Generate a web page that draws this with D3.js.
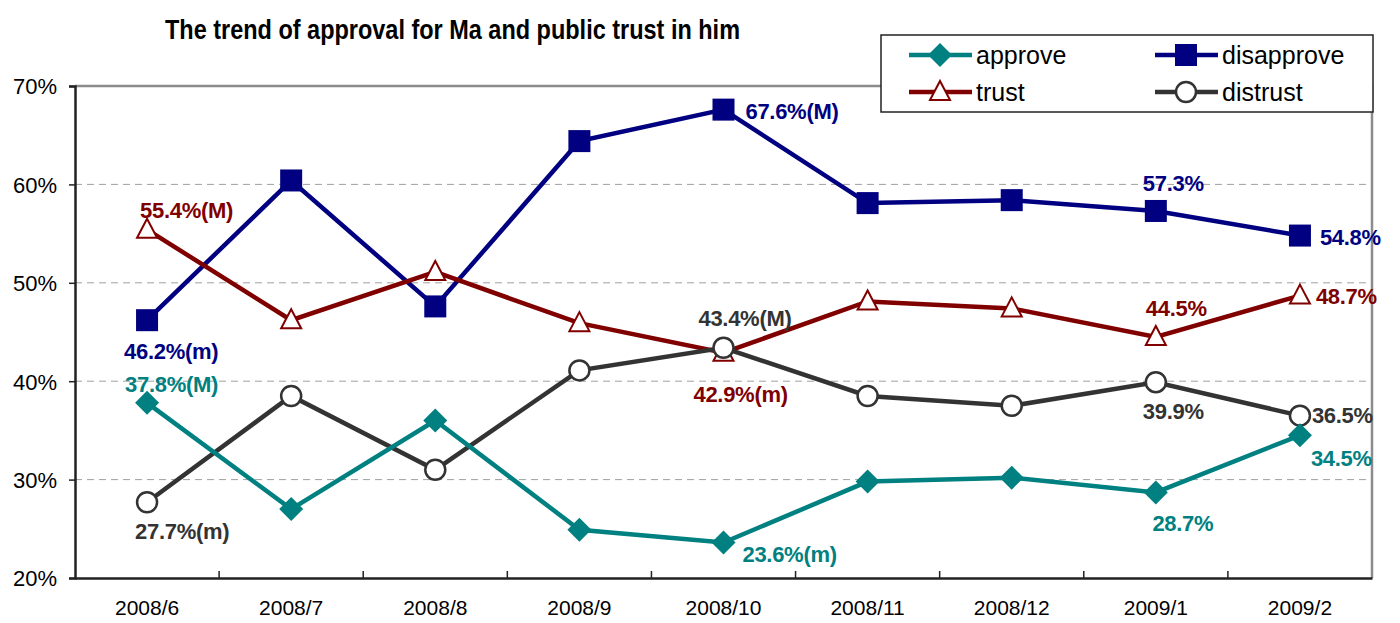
<!DOCTYPE html>
<html>
<head>
<meta charset="utf-8">
<script src="https://cdn.jsdelivr.net/npm/d3@7"></script>
<style>
  body { margin: 0; background: #fff; }
  text { font-family: "Liberation Sans", Arial, sans-serif; }
</style>
</head>
<body>
<div id="chart"></div>
<script>
var months = ["2008/6","2008/7","2008/8","2008/9","2008/10","2008/11","2008/12","2009/1","2009/2"];
var approve    = [37.8, 27.0, 36.0, 24.9, 23.6, 29.8, 30.2, 28.7, 34.5];
var disapprove = [46.2, 60.4, 47.6, 64.4, 67.6, 58.1, 58.4, 57.3, 54.8];
var trust      = [55.4, 46.2, 51.1, 45.9, 42.9, 48.1, 47.4, 44.5, 48.7];
var distrust   = [27.7, 38.5, 31.0, 41.1, 43.4, 38.5, 37.5, 39.9, 36.5];
var yTicks = [20, 30, 40, 50, 60, 70];

var series = [
  {name: "approve",    values: approve,    color: "#008080", shape: "diamond"},
  {name: "disapprove", values: disapprove, color: "#000080", shape: "square"},
  {name: "trust",      values: trust,      color: "#800000", shape: "triangle"},
  {name: "distrust",   values: distrust,   color: "#333333", shape: "circle"}
];

// which points get a value label: [series, point, suffix, dx, dy, anchor]
var notes = [
  [0, 0, "(M)", -22, -11, "start"],
  [0, 4, "(m)", 19, 19, "start"],
  [0, 7, "", 27, 39, "middle"],
  [0, 8, "", 11, 31, "start"],
  [1, 0, "(m)", -23, 39, "start"],
  [1, 4, "(M)", 22, 9, "start"],
  [1, 7, "", -13, -20, "start"],
  [1, 8, "", 20, 9, "start"],
  [2, 0, "(M)", -7, -12, "start"],
  [2, 4, "(m)", -30, 49, "start"],
  [2, 7, "", -10, -21, "start"],
  [2, 8, "", 16, 8, "start"],
  [3, 0, "(m)", -12, 37, "start"],
  [3, 4, "(M)", -25, -22, "start"],
  [3, 7, "", -13, 37, "start"],
  [3, 8, "", 12, 7, "start"]
];

var W = 1400, H = 623;
var m = {left: 75, right: 28, top: 86, bottom: 45};

var svg = d3.select("#chart").append("svg")
  .attr("width", W).attr("height", H);

var x = d3.scaleBand().domain(months).range([m.left, W - m.right]);
var y = d3.scaleLinear().domain([20, 70]).range([H - m.bottom, m.top]);
function cx(i){ return x(months[i]) + x.bandwidth() / 2; }

// title (condensed look)
svg.append("text")
  .attr("x", 165).attr("y", 39)
  .attr("textLength", 575)
  .attr("lengthAdjust", "spacingAndGlyphs")
  .style("font-weight", "bold")
  .style("font-size", "27px")
  .text("The trend of approval for Ma and public trust in him");

// gridlines
svg.append("g").selectAll("line")
  .data(yTicks.filter(function(d){ return d > 20 && d < 70; }))
  .enter().append("line")
  .attr("x1", m.left).attr("x2", W - m.right)
  .attr("y1", function(d){ return y(d); })
  .attr("y2", function(d){ return y(d); })
  .attr("stroke", "#a0a0a0")
  .attr("stroke-width", 1)
  .attr("stroke-dasharray", "7,5");

// top and right border
svg.append("path")
  .attr("d", "M" + m.left + "," + y(70) + "H" + (W - m.right) + "V" + y(20))
  .attr("fill", "none")
  .attr("stroke", "#8c8c8c")
  .attr("stroke-width", 2.5);

// y axis
var yAxis = svg.append("g")
  .attr("transform", "translate(" + m.left + ",0)")
  .call(d3.axisLeft(y).tickValues(yTicks).tickSize(6).tickPadding(12)
    .tickFormat(function(d){ return d + "%"; }));
yAxis.select(".domain").attr("stroke", "#222").attr("stroke-width", 2.5);
yAxis.selectAll(".tick line").attr("stroke", "#222").attr("stroke-width", 1.5);
yAxis.selectAll("text").style("font-size", "22px").attr("fill", "#000").attr("dy", "0.36em");

// x axis
var xAxis = svg.append("g")
  .attr("transform", "translate(0," + y(20) + ")")
  .call(d3.axisBottom(x).tickSize(0).tickPadding(22));
xAxis.select(".domain").attr("stroke", "#222").attr("stroke-width", 2.5);
xAxis.selectAll("text").style("font-size", "21px").attr("fill", "#000");
// category boundary ticks (inside, pointing up)
svg.append("g").selectAll("line")
  .data(months.slice(1))
  .enter().append("line")
  .attr("x1", function(d){ return x(d); })
  .attr("x2", function(d){ return x(d); })
  .attr("y1", y(20)).attr("y2", y(20) - 7)
  .attr("stroke", "#222").attr("stroke-width", 1.5);

var line = d3.line()
  .x(function(d, i){ return cx(i); })
  .y(function(d){ return y(d); });

function marker(g, shape, color, px, py) {
  if (shape === "diamond") {
    g.append("path")
      .attr("d", "M" + px + "," + (py - 12) + "L" + (px + 12) + "," + py + "L" + px + "," + (py + 12) + "L" + (px - 12) + "," + py + "Z")
      .attr("fill", color);
  } else if (shape === "square") {
    g.append("rect")
      .attr("x", px - 11).attr("y", py - 11)
      .attr("width", 22).attr("height", 22)
      .attr("fill", color);
  } else if (shape === "triangle") {
    g.append("path")
      .attr("d", "M" + px + "," + (py - 11) + "L" + (px + 10) + "," + (py + 8) + "L" + (px - 10) + "," + (py + 8) + "Z")
      .attr("fill", "#fff").attr("stroke", color).attr("stroke-width", 2);
  } else {
    g.append("circle")
      .attr("cx", px).attr("cy", py).attr("r", 10)
      .attr("fill", "#fff").attr("stroke", color).attr("stroke-width", 2.5);
  }
}

var drawOrder = [1, 2, 3, 0];
drawOrder.forEach(function(k){
  var s = series[k];
  var g = svg.append("g");
  g.append("path")
    .datum(s.values)
    .attr("d", line)
    .attr("fill", "none")
    .attr("stroke", s.color)
    .attr("stroke-width", 4.5);
  s.values.forEach(function(v, i){ marker(g, s.shape, s.color, cx(i), y(v)); });
});

// value labels
svg.append("g").selectAll("text")
  .data(notes)
  .enter().append("text")
  .attr("x", function(d){ return cx(d[1]) + d[3]; })
  .attr("y", function(d){ return y(series[d[0]].values[d[1]]) + d[4]; })
  .attr("text-anchor", function(d){ return d[5]; })
  .attr("fill", function(d){ return series[d[0]].color; })
  .style("font-size", "22px")
  .style("font-weight", "bold")
  .style("letter-spacing", "-0.3px")
  .text(function(d){ return series[d[0]].values[d[1]].toFixed(1) + "%" + d[2]; });

// legend
var lg = svg.append("g");
lg.append("rect")
  .attr("x", 881).attr("y", 35).attr("width", 492).attr("height", 77)
  .attr("fill", "#fff").attr("stroke", "#222").attr("stroke-width", 1.5);
series.forEach(function(s, i){
  var lx = 909 + (i % 2) * 246, ly = 55 + Math.floor(i / 2) * 37;
  lg.append("line")
    .attr("x1", lx).attr("x2", lx + 63)
    .attr("y1", ly).attr("y2", ly)
    .attr("stroke", s.color).attr("stroke-width", 4.5);
  marker(lg, s.shape, s.color, lx + 31, ly);
  lg.append("text")
    .attr("x", lx + 67).attr("y", ly + 9)
    .style("font-size", "25px")
    .attr("fill", "#000")
    .text(s.name);
});
</script>
</body>
</html>
